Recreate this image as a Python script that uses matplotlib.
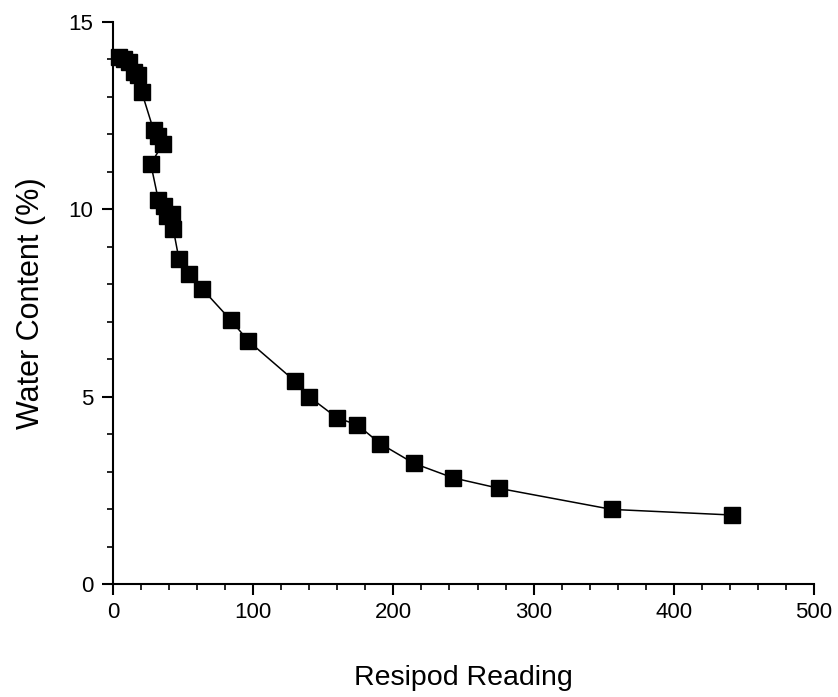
import matplotlib
matplotlib.use("Agg")
import matplotlib.pyplot as plt
from matplotlib.ticker import MultipleLocator

resipod = [4, 8, 11.5, 15.3, 17.6, 20.6, 29, 32.4, 35.5, 27, 32.4, 36.3, 38.5, 42.4, 43,
           47, 54, 63.7, 84, 96.6, 129.8, 139.7, 159.5, 174.4, 190.8, 214.5, 242.7,
           275.6, 355.8, 441.7]
water = [14.05, 14.0, 13.93, 13.66, 13.57, 13.11, 12.10, 11.95, 11.74, 11.2, 10.24, 10.09,
         9.82, 9.88, 9.47, 8.68, 8.26, 7.87, 7.04, 6.48, 5.41, 5.0, 4.44, 4.24, 3.74, 3.22,
         2.83, 2.55, 1.99, 1.84]

plt.rcParams['font.family'] = ['Liberation Sans', 'DejaVu Sans']

fig = plt.figure(figsize=(8.38, 6.97), dpi=100)
ax = fig.add_axes([0.1348, 0.1621, 0.8366, 0.8069])
ax.plot(resipod, water, color='black', linewidth=1.1, marker='s', markersize=11.5,
        markerfacecolor='black', markeredgecolor='black', clip_on=False)

ax.set_xlim(0, 500)
ax.set_ylim(0, 15)
ax.xaxis.set_major_locator(MultipleLocator(100))
ax.xaxis.set_minor_locator(MultipleLocator(20))
ax.yaxis.set_major_locator(MultipleLocator(5))
ax.yaxis.set_minor_locator(MultipleLocator(1))
for s in ['top', 'right']:
    ax.spines[s].set_visible(False)
for s in ['left', 'bottom']:
    ax.spines[s].set_linewidth(1.5)
ax.tick_params(which='major', direction='out', length=7.8, width=1.5, labelsize=16)
ax.tick_params(axis='x', which='major', pad=5.5)
ax.tick_params(axis='y', which='major', pad=6.5)
ax.tick_params(which='minor', direction='out', length=4, width=1.2)
ax.set_xlabel('Resipod Reading', fontsize=20.5)
ax.set_ylabel('Water Content (%)', fontsize=22)
ax.xaxis.set_label_coords(0.5, -(685 - 584) / 563)
ax.xaxis.label.set_va('baseline')
ax.yaxis.set_label_coords((46 - 113) / 701, 0.5)

fig.savefig('out.png', dpi=100)
